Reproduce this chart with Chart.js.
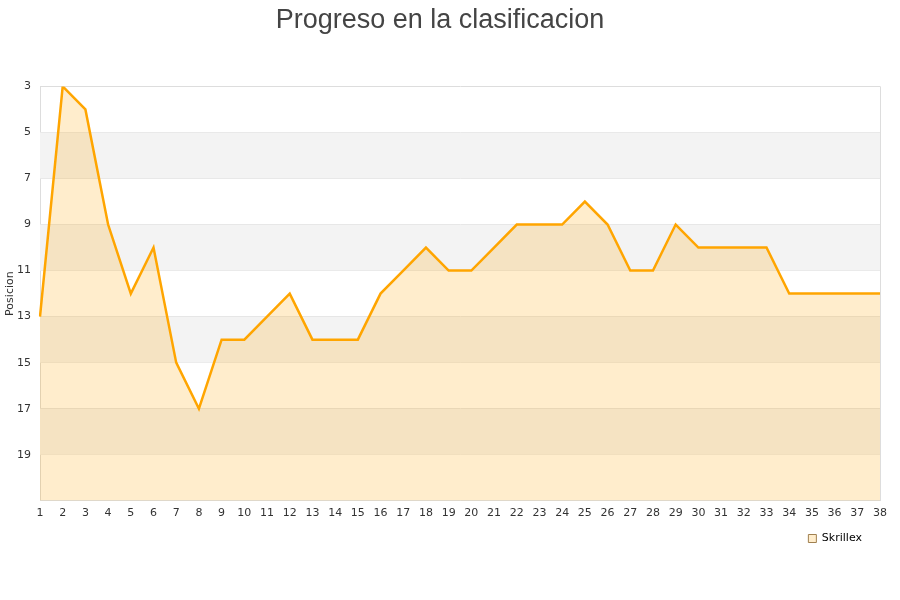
<!DOCTYPE html>
<html>
<head>
<meta charset="utf-8">
<script src="https://cdn.jsdelivr.net/npm/chart.js@4"></script>
<style>
  body { margin: 0; background: #fff; }
  #wrap { width: 900px; height: 600px; }
</style>
</head>
<body>
<div id="wrap"><canvas id="myChart"></canvas></div>
<script>
const jornadas = ['1','2','3','4','5','6','7','8','9','10','11','12','13','14','15','16','17','18','19',
  '20','21','22','23','24','25','26','27','28','29','30','31','32','33','34','35','36','37','38'];
const posiciones = [13, 3, 4, 9, 12, 10, 15, 17, 14, 14, 13, 12, 14, 14, 14, 12, 11, 10, 11,
  11, 10, 9, 9, 9, 8, 9, 11, 11, 9, 10, 10, 10, 10, 12, 12, 12, 12, 12];
const yTicks = [3, 5, 7, 9, 11, 13, 15, 17, 19];

// alternate grey bands behind the data
const bandas = {
  id: 'bandas',
  beforeDraw(chart) {
    // nudge the legend a bit in from the right edge
    if (chart.legend) chart.legend.right = chart.chartArea.right - 11;
  },
  beforeDatasetsDraw(chart) {
    const { ctx, chartArea, scales } = chart;
    const y = scales.y;
    ctx.save();
    ctx.fillStyle = '#f3f3f3';
    for (let v = 5; v < 21; v += 4) {
      const a = y.getPixelForValue(v), b = y.getPixelForValue(v + 2);
      ctx.fillRect(chartArea.left, a, chartArea.right - chartArea.left, b - a);
    }
    ctx.strokeStyle = '#dddddd';
    ctx.lineWidth = 1;
    ctx.beginPath();
    ctx.moveTo(Math.round(chartArea.right) + 0.5, chartArea.top);
    ctx.lineTo(Math.round(chartArea.right) + 0.5, chartArea.bottom);
    ctx.stroke();
    ctx.restore();
  }
};

const ctx = document.getElementById('myChart');

var graphData = {
  type: 'line',
  data: {
    labels: jornadas,
    datasets: [{
      label: 'Skrillex',
      data: posiciones,
      borderColor: '#ffa500',
      backgroundColor: 'rgba(255,165,0,0.2)',
      borderWidth: 2.5,
      pointRadius: 0,
      fill: { value: 21 },
      tension: 0
    }]
  },
  options: {
    responsive: true,
    maintainAspectRatio: false,
    animation: false,
    layout: { padding: { left: 0, right: 20, top: 0, bottom: 46 } },
    plugins: {
      title: {
        display: true,
        text: 'Progreso en la clasificacion',
        color: '#444',
        font: { family: 'Liberation Sans', size: 27, weight: 'normal' },
        padding: { top: 4, bottom: 50 }
      },
      legend: {
        position: 'bottom',
        align: 'end',
        labels: {
          boxWidth: 8,
          boxHeight: 8,
          color: '#222',
          font: { family: 'DejaVu Sans', size: 11 },
          padding: 7,
          generateLabels(chart) {
            return [{
              text: 'Skrillex',
              fillStyle: '#ffedcc',
              strokeStyle: '#a08050',
              lineWidth: 1,
              datasetIndex: 0
            }];
          }
        }
      },
      tooltip: { enabled: false }
    },
    scales: {
      x: {
        offset: false,
        grid: { display: false, drawTicks: false },
        border: { display: true, color: '#dddddd' },
        ticks: {
          color: '#333',
          font: { family: 'DejaVu Sans', size: 11 },
          maxRotation: 0,
          autoSkip: false,
          padding: 6
        }
      },
      y: {
        reverse: true,
        min: 3,
        max: 21,
        afterBuildTicks(axis) {
          axis.ticks = yTicks.concat([21]).map(v => ({ value: v }));
        },
        afterFit(axis) {
          axis.width = 40;
        },
        grid: { color: '#dddddd', drawTicks: false },
        border: { display: true, color: '#dddddd' },
        title: {
          display: true,
          text: 'Posicion',
          color: '#333',
          font: { family: 'DejaVu Sans', size: 11 },
          padding: { top: 4, bottom: 0 }
        },
        ticks: {
          color: '#333',
          font: { family: 'DejaVu Sans', size: 11 },
          padding: 9,
          callback: v => (yTicks.includes(v) ? String(v) : '')
        }
      }
    }
  },
  plugins: [bandas]
};

var myChart = new Chart(ctx, graphData);
</script>
</body>
</html>
